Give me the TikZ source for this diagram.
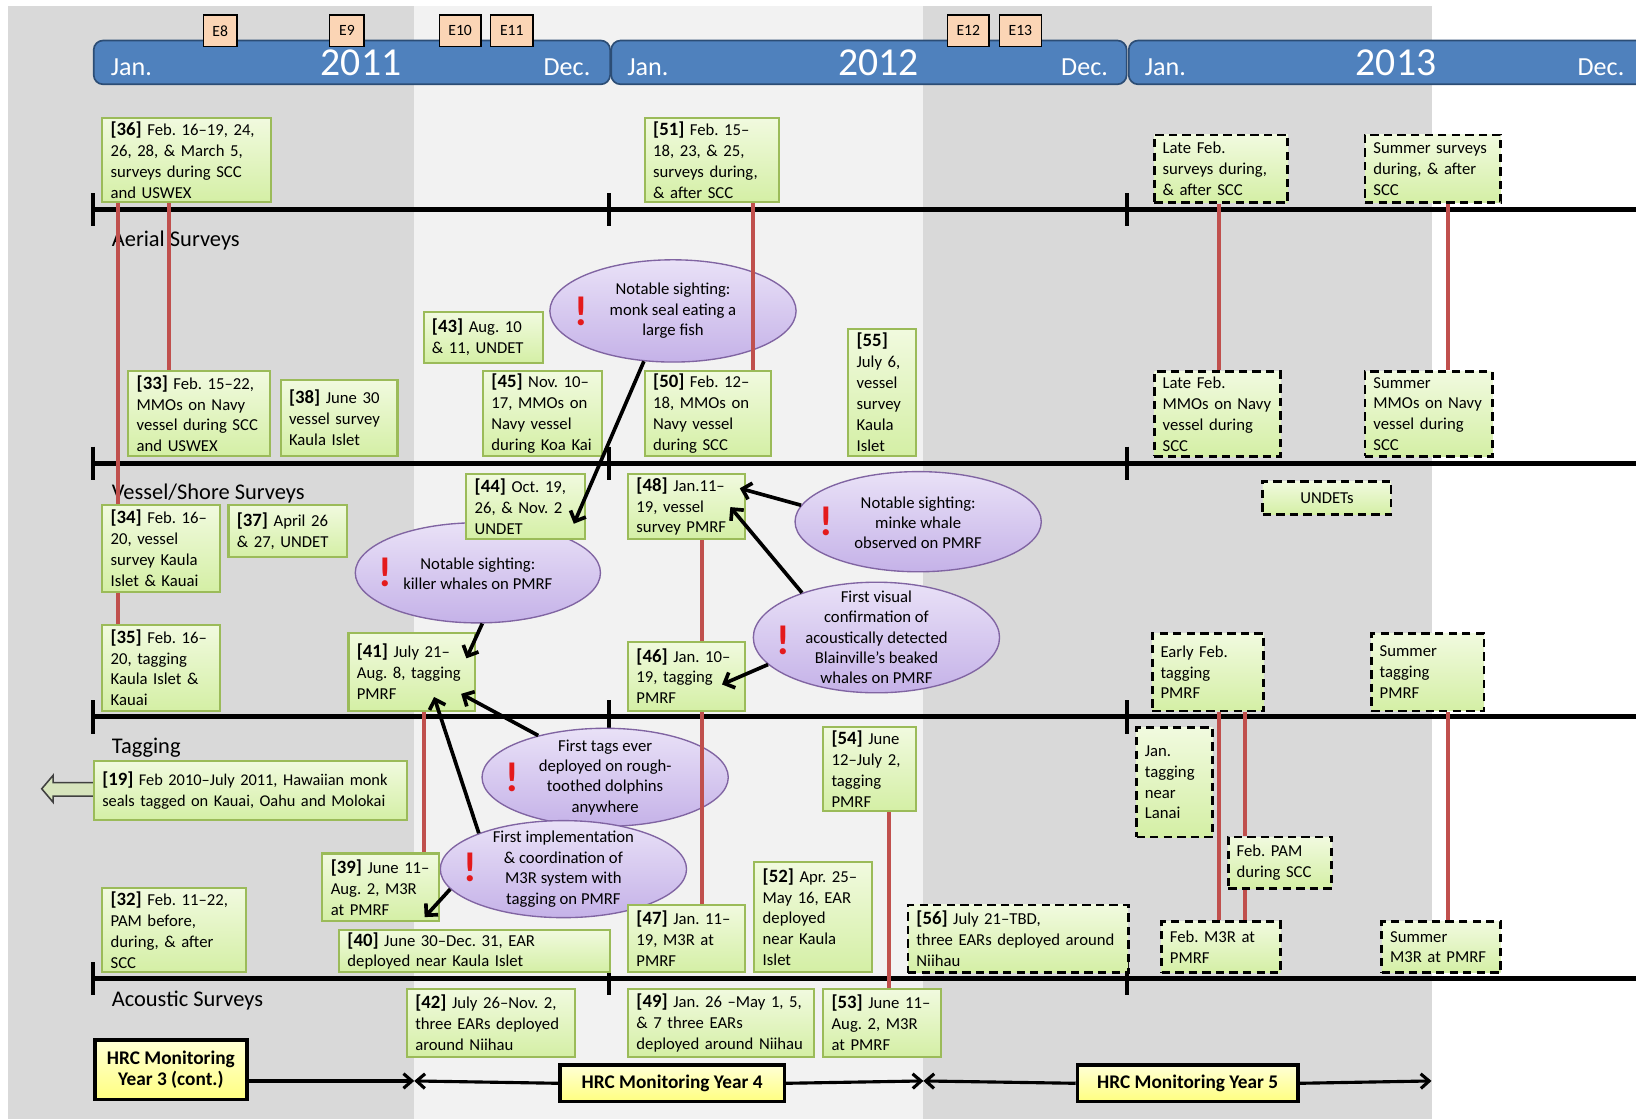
\documentclass[tikz,border=0pt]{standalone}
\usepackage{fontspec}
\setmainfont{Carlito}
\usetikzlibrary{shapes.geometric,arrows.meta}
\definecolor{gbd}{HTML}{9BBB59}
\definecolor{gtop}{HTML}{F1FADF}
\definecolor{gbot}{HTML}{D4EFA5}
\definecolor{redl}{HTML}{C0504D}
\definecolor{bgdark}{HTML}{D9D9D9}
\definecolor{bglight}{HTML}{F2F2F2}
\definecolor{barblue}{HTML}{4F81BD}
\definecolor{barline}{HTML}{2C4D75}
\definecolor{epeach}{HTML}{FBD5B5}
\definecolor{eltop}{HTML}{E9E1F7}
\definecolor{elbot}{HTML}{C5B2E8}
\definecolor{elline}{HTML}{8064A2}
\definecolor{bangred}{HTML}{E41A1C}
\definecolor{ytop}{HTML}{FFFFD6}
\definecolor{ybot}{HTML}{FFFF80}
\definecolor{arrfill}{HTML}{D7E4BD}
\pgfdeclarelayer{bg}\pgfdeclarelayer{ell}\pgfdeclarelayer{mid}
\pgfsetlayers{bg,ell,mid,main}
\frenchspacing
\newcommand\blab[1]{{\fontsize{18}{20}\selectfont\bfseries[#1]}}
\newcommand\mkbox[7]{\pgfmathsetmacro\mytw{#5-16}\node[#1,anchor=north west,minimum width=#5pt,minimum height=#6pt,text width=\mytw pt] (#2) at (#3,#4) {#7};}
\begin{document}
\begin{tikzpicture}[x=1pt,y=-1pt,
 gbox/.style={draw=gbd,line width=2pt,top color=gtop,bottom color=gbot,inner xsep=8pt,inner ysep=1pt,align=left,font=\frenchspacing\fontsize{16}{20}\selectfont},
 dbox/.style={gbox,draw=black,line width=2.6pt,dash pattern=on 8pt off 5pt},
 redline/.style={draw=redl,line width=4pt},
 blk/.style={draw=black,line width=3.5pt,-{Straight Barb[length=8pt,width=16pt]}},
 ell/.style={ellipse,draw=elline,line width=1.3pt,top color=eltop,bottom color=elbot,inner sep=0pt},
 etext/.style={align=center,font=\fontsize{16}{19.5}\selectfont,inner sep=0pt},
 bangmark/.style={text=bangred,font=\fontsize{40}{40}\selectfont\bfseries,inner sep=0pt},
 ebox/.style={draw=black,line width=1.3pt,fill=epeach,font=\fontsize{15}{18}\selectfont,inner sep=0pt},
 yearbar/.style={draw=barline,line width=1.6pt,fill=barblue,rounded corners=9pt,inner sep=0pt,anchor=north west},
 ytxt/.style={text=white,font=\fontsize{25}{25}\selectfont,inner sep=0pt},
 ybig/.style={text=white,font=\fontsize{38}{38}\selectfont,inner sep=0pt},
 rowline/.style={line width=4.5pt},
 tickmark/.style={line width=4pt},
 rowlab/.style={font=\fontsize{21.5}{24}\selectfont,inner sep=0pt,anchor=base west},
 hrc/.style={draw=black,line width=3.5pt,top color=ytop,bottom color=ybot,align=center,font=\fontsize{18.5}{21}\selectfont\bfseries,inner sep=2pt,anchor=north west},
 harr/.style={line width=3pt,-{Straight Barb[length=8pt,width=14pt]}}]
\useasboundingbox (0,0) rectangle (1568,1072);
\begin{pgfonlayer}{bg}
\fill[bgdark] (8,6) rectangle (397,1072);
\fill[bglight] (397,6) rectangle (885,1072);
\fill[bgdark] (885,6) rectangle (1372,1072);
\foreach \yy in {201,444,687,938}{
 \draw[rowline] (89,\yy) -- (1570,\yy);
 \foreach \xx in {89,584,1080}{\draw[tickmark] (\xx,\yy-16) -- (\xx,\yy+16);}
}
\node[rowlab] (lab1) at (107,236) {Aerial Surveys};
\node[rowlab] (lab2) at (107,479) {Vessel/Shore Surveys};
\node[rowlab] (lab3) at (107,722) {Tagging};
\node[rowlab] (lab4) at (107,965) {Acoustic Surveys};
\end{pgfonlayer}
% timeline bar
\node[yearbar,minimum width=495pt,minimum height=42pt] (y11) at (89,38) {};
\node[yearbar,minimum width=494pt,minimum height=42pt] (y12) at (585,38) {};
\node[yearbar,minimum width=530pt,minimum height=42pt] (y13) at (1081,38) {};
\node[ytxt,anchor=base west] (j11) at (106,72) {Jan.};
\node[ybig,anchor=base] (t11) at (346,72) {2011};
\node[ytxt,anchor=base east] (d11) at (566,72) {Dec.};
\node[ytxt,anchor=base west] (j12) at (601,72) {Jan.};
\node[ybig,anchor=base] (t12) at (842,72) {2012};
\node[ytxt,anchor=base east] (d12) at (1062,72) {Dec.};
\node[ytxt,anchor=base west] (j13) at (1097,72) {Jan.};
\node[ybig,anchor=base] (t13) at (1338,72) {2013};
\node[ytxt,anchor=base east] (d13) at (1557,72) {Dec.};
\node[ebox,minimum width=32pt,minimum height=30pt] (e8) at (211,29.5) {E8};
\node[ebox,minimum width=33pt,minimum height=30pt] (e9) at (332.5,29.5) {E9};
\node[ebox,minimum width=40pt,minimum height=30pt] (e10) at (441,29.5) {E10};
\node[ebox,minimum width=41pt,minimum height=30pt] (e11) at (490.5,29.5) {E11};
\node[ebox,minimum width=40pt,minimum height=30pt] (e12) at (928,29.5) {E12};
\node[ebox,minimum width=40pt,minimum height=30pt] (e13) at (978,29.5) {E13};
% ellipses
\begin{pgfonlayer}{ell}
\node[ell,minimum width=236pt,minimum height=98pt] (monk) at (645,298) {};
\node[ell,minimum width=236pt,minimum height=96pt] (minke) at (880,500) {};
\node[ell,minimum width=235pt,minimum height=96pt] (killer) at (458,549) {};
\node[ell,minimum width=236pt,minimum height=106pt] (fv) at (840,611) {};
\node[ell,minimum width=236pt,minimum height=94pt] (ft) at (580,745) {};
\node[ell,minimum width=236pt,minimum height=93pt] (fi) at (540,833) {};
\end{pgfonlayer}
\node[etext] (monkt) at (645,298) {Notable sighting:\\monk seal eating a\\large fish};
\node[etext] (minket) at (880,501) {Notable sighting:\\minke whale\\observed on PMRF};
\node[etext] (killert) at (458,550) {Notable sighting:\\killer whales on PMRF};
\node[etext] (fvt) at (840,611) {First visual\\confirmation of\\acoustically detected\\Blainville’s beaked\\whales on PMRF};
\node[etext] (ftt) at (580,745) {First tags ever\\deployed on rough-\\toothed dolphins\\anywhere};
\node[etext] (fit) at (540,833) {First implementation\\\& coordination of\\M3R system with\\tagging on PMRF};
\node[bangmark] (monkx) at (557,298) {!};
\node[bangmark] (minkex) at (792,500) {!};
\node[bangmark] (killerx) at (369,549) {!};
\node[bangmark] (fvx) at (751,614) {!};
\node[bangmark] (ftx) at (491,745) {!};
\node[bangmark] (fix) at (451,831) {!};
% block arrow left of [19]
\draw[fill=arrfill,draw=black!75,line width=1.5pt] (40,756) -- (51,743) -- (51,750) -- (90,750) -- (90,763) -- (51,763) -- (51,769) -- cycle;
% boxes
\mkbox{gbox}{n36}{97}{112}{162}{81}{\blab{36} Feb. 16–19, 24,\\26, 28, \& March 5,\\surveys during SCC\\and USWEX}
\mkbox{gbox}{n51}{617}{112}{129}{81}{\blab{51} Feb. 15–\\18, 23, \& 25,\\surveys during,\\\& after SCC}
\mkbox{dbox}{a13a}{1105}{128}{128}{65}{Late Feb.\\surveys during,\\\& after SCC}
\mkbox{dbox}{a13b}{1307}{128}{130}{65}{Summer surveys\\during, \& after\\SCC}
\mkbox{gbox}{n43}{405}{298}{114}{49}{\blab{43} Aug. 10\\\& 11, UNDET}
\mkbox{gbox}{n55}{812}{314}{65}{122}{\blab{55}\\July 6,\\vessel\\survey\\Kaula\\Islet}
\mkbox{gbox}{n33}{122}{355}{136}{81}{\blab{33} Feb. 15–22,\\MMOs on Navy\\vessel during SCC\\and USWEX}
\mkbox{gbox}{n38}{268}{363}{112}{73}{\blab{38} June 30\\vessel survey\\Kaula Islet}
\mkbox{gbox}{n45}{462}{355}{114}{81}{\blab{45} Nov. 10–\\17, MMOs on\\Navy vessel\\during Koa Kai}
\mkbox{gbox}{n50}{617}{355}{121}{81}{\blab{50} Feb. 12–\\18, MMOs on\\Navy vessel\\during SCC}
\mkbox{dbox}{v13a}{1105}{355}{121}{81}{Late Feb.\\MMOs on Navy\\vessel during\\SCC}
\mkbox{dbox}{v13b}{1307}{355}{122}{81}{Summer\\MMOs on Navy\\vessel during\\SCC}
\mkbox{gbox}{n44}{446}{453}{114}{63}{\blab{44} Oct. 19,\\26, \& Nov. 2\\UNDET}
\mkbox{gbox}{n48}{601}{453}{112}{63}{\blab{48} Jan.11–\\19, vessel\\survey PMRF}
\mkbox{dbox,align=center}{und}{1209}{460}{123}{32}{UNDETs}
\mkbox{gbox}{n34}{97}{483}{113}{83}{\blab{34} Feb. 16–\\20, vessel\\survey Kaula\\Islet \& Kauai}
\mkbox{gbox}{n37}{218}{483}{114}{50}{\blab{37} April 26\\\& 27, UNDET}
\mkbox{gbox}{n35}{97}{598}{113}{82}{\blab{35} Feb. 16–\\20, tagging\\Kaula Islet \&\\Kauai}
\mkbox{gbox}{n41}{333}{606}{121}{74}{\blab{41} July 21–\\Aug. 8, tagging\\PMRF}
\mkbox{gbox}{n46}{601}{614}{112}{66}{\blab{46} Jan. 10–\\19, tagging\\PMRF}
\mkbox{dbox}{t13a}{1103}{606}{107}{74}{Early Feb.\\tagging\\PMRF}
\mkbox{dbox}{t13b}{1313}{606}{108}{74}{Summer\\tagging\\PMRF}
\mkbox{gbox,font=\frenchspacing\fontsize{15.7}{20}\selectfont}{n19}{89}{728}{300}{57}{\blab{19} Feb 2010–July 2011, Hawaiian monk\\seals tagged on Kauai, Oahu and Molokai}
\mkbox{gbox}{n54}{788}{696}{89}{80}{\blab{54} June\\12–July 2,\\tagging\\PMRF}
\mkbox{dbox}{t13c}{1088}{696}{73}{105}{Jan.\\tagging\\near\\Lanai}
\mkbox{dbox}{t13d}{1176}{801}{99}{49}{Feb. PAM\\during SCC}
\mkbox{gbox}{n39}{308}{817}{112}{65}{\blab{39} June 11–\\Aug. 2, M3R\\at PMRF}
\mkbox{gbox}{n52}{722}{825}{113}{106}{\blab{52} Apr. 25–\\May 16, EAR\\deployed\\near Kaula\\Islet}
\mkbox{gbox}{n32}{97}{850}{138}{81}{\blab{32} Feb. 11–22,\\PAM before,\\during, \& after\\SCC}
\mkbox{gbox}{n47}{601}{866}{112}{65}{\blab{47} Jan. 11–\\19, M3R at\\PMRF}
\mkbox{dbox}{n56}{869}{866}{211}{65}{\blab{56} July 21–TBD,\\three EARs deployed around\\Niihau}
\mkbox{dbox}{c13a}{1112}{882}{114}{49}{Feb. M3R at\\PMRF}
\mkbox{dbox}{c13b}{1323}{882}{114}{49}{Summer\\M3R at PMRF}
\mkbox{gbox}{n40}{324}{890}{260}{41}{\blab{40} June 30–Dec. 31, EAR\\deployed near Kaula Islet}
\mkbox{gbox}{n42}{389}{947}{161}{65}{\blab{42} July 26–Nov. 2,\\three EARs deployed\\around Niihau}
\mkbox{gbox}{n49}{601}{947}{178}{65}{\blab{49} Jan. 26 –May 1, 5,\\\& 7 three EARs\\deployed around Niihau}
\mkbox{gbox}{n53}{788}{947}{113}{65}{\blab{53} June 11–\\Aug. 2, M3R\\at PMRF}
% red connectors
\begin{pgfonlayer}{mid}
\coordinate (r1) at ([xshift=16pt]n36.south west);
\draw[redline] (r1) -- (r1 |- n34.north);
\coordinate (r1b) at ([xshift=16pt]n34.south west);
\draw[redline] (r1b) -- (r1b |- n35.north);
\coordinate (r2) at ([xshift=65pt]n36.south west);
\draw[redline] (r2) -- (r2 |- n33.north);
\coordinate (r3) at ([xshift=105pt]n51.south west);
\draw[redline] (r3) -- (r3 |- n50.north);
\coordinate (r4) at ([xshift=63pt]a13a.south west);
\draw[redline] (r4) -- (r4 |- v13a.north);
\coordinate (r5) at ([xshift=81pt]a13b.south west);
\draw[redline] (r5) -- (r5 |- v13b.north);
\coordinate (r6) at ([xshift=72pt]n48.south west);
\draw[redline] (r6) -- (r6 |- n47.north);
\coordinate (r7) at ([xshift=73pt]n41.south west);
\draw[redline] (r7) -- (r7 |- n39.north);
\coordinate (r8) at ([xshift=64pt]n54.south west);
\draw[redline] (r8) -- (r8 |- n53.north);
\coordinate (r9) at ([xshift=65pt]t13a.south west);
\draw[redline] (r9) -- (r9 |- c13a.north);
\coordinate (r10) at ([xshift=90pt]t13a.south west);
\draw[redline] (r10) -- (r10 |- t13d.north);
\coordinate (r11) at (r10 |- t13d.south);
\draw[redline] (r11) -- (r11 |- c13a.north);
\coordinate (r12) at ([xshift=75pt]t13b.south west);
\draw[redline] (r12) -- (r12 |- c13b.north);
\end{pgfonlayer}
% black arrows
\draw[blk] (monk.240) -- ([shift={(-12,-16)}]n44.south east);
\draw[blk] (minke.172) -- ([shift={(-6,15)}]n48.north east);
\draw[blk] (fv.149) -- ([shift={(-15,-32)}]n48.south east);
\draw[blk] (fv.194) -- ([shift={(-23,-26)}]n46.south east);
\draw[blk] (killer.275) -- ([shift={(-9,25)}]n41.north east);
\draw[blk] (ft.148) -- ([shift={(-14,-17)}]n41.south east);
\draw[blk] (fi.157) -- ([shift={(83,-14)}]n41.south west);
\draw[blk] (fi.190) -- ([shift={(-15,-5)}]n39.south east);
% HRC years
\node[hrc,minimum width=146pt,minimum height=57pt] (hy3) at (89,995) {HRC Monitoring\\Year 3 (cont.)};
\node[hrc,minimum width=215pt,minimum height=35pt] (hy4) at (535,1019) {HRC Monitoring Year 4};
\node[hrc,minimum width=211pt,minimum height=35pt] (hy5) at (1031,1019) {HRC Monitoring Year 5};
\coordinate (m1) at (397,1036);
\coordinate (m2) at (885,1036);
\coordinate (m3) at (1372,1036);
\draw[harr] (hy3.east |- m1) -- (m1);
\draw[harr] (hy4.west) -- (m1);
\draw[harr] (hy4.east) -- (m2);
\draw[harr] (hy5.west) -- (m2);
\draw[harr] (hy5.east) -- (m3);
\end{tikzpicture}
\end{document}
